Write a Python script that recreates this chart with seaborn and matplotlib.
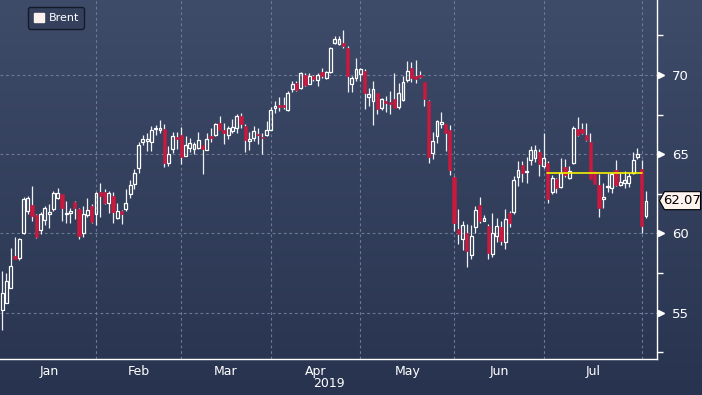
import numpy as np
import pandas as pd
import matplotlib
matplotlib.use("Agg")
import matplotlib.pyplot as plt
import seaborn as sns
from matplotlib.colors import LinearSegmentedColormap
from matplotlib.patches import Patch, Polygon

# Daily Brent candles, Jan 2 2019 -> Aug 2 2019
opens = [55.19, 55.61, 56.56, 58.61, 58.46, 60.04, 61.41, 61.79, 61.14, 60.25,
         60.82, 61.20, 61.52, 62.22, 62.47, 61.22, 61.29, 61.98, 61.52, 60.00,
         61.16, 61.73, 61.20, 62.62, 62.62, 61.94, 62.36, 60.99, 61.41, 61.52,
         62.47, 63.10, 64.16, 65.74, 65.84, 65.74, 66.58, 66.54, 66.58, 64.47,
         65.32, 66.09, 66.20, 64.89, 65.42, 65.32, 65.42, 65.57, 65.27, 66.16,
         66.22, 66.96, 66.51, 66.22, 66.47, 66.64, 67.38, 66.79, 65.84, 66.05,
         66.30, 66.09, 66.22, 66.55, 67.90, 68.11, 68.11, 67.77, 69.10, 69.52,
         69.20, 70.00, 69.45, 69.94, 69.66, 70.19, 69.79, 70.21, 72.04, 71.98,
         72.04, 71.72, 69.45, 69.83, 70.04, 70.25, 68.61, 68.36, 68.89, 67.94,
         68.36, 68.32, 68.46, 67.98, 68.42, 69.68, 70.44, 69.96, 70.00, 69.54,
         68.34, 65.05, 66.17, 66.91, 66.91, 66.55, 63.58, 60.27, 59.64, 60.06,
         58.65, 60.42, 61.79, 60.76, 60.48, 58.69, 59.85, 60.38, 59.49, 61.28,
         61.33, 63.58, 64.32, 63.85, 64.63, 64.76, 65.12, 64.26, 64.47, 62.62,
         63.46, 62.93, 64.20, 63.52, 64.47, 66.58, 66.58, 66.22, 65.74, 63.95,
         63.06, 62.15, 62.93, 62.89, 63.99, 63.06, 63.21, 63.21, 63.84, 64.83,
         64.05, 61.10]
highs = [57.62, 57.51, 59.09, 59.77, 59.73, 62.30, 62.36, 63.00, 61.20, 61.35,
         61.73, 61.84, 62.68, 62.85, 62.51, 62.05, 61.62, 62.05, 61.62, 61.73,
         62.26, 61.84, 62.62, 63.16, 62.83, 62.68, 62.62, 61.94, 61.46, 62.78,
         63.35, 64.05, 65.74, 66.20, 66.32, 66.75, 66.83, 67.17, 66.89, 65.53,
         66.41, 66.41, 66.70, 66.16, 66.05, 65.80, 66.43, 65.60, 66.32, 66.64,
         66.96, 67.42, 67.00, 66.79, 67.21, 67.52, 67.57, 66.89, 66.43, 66.79,
         66.64, 66.37, 67.10, 67.95, 68.36, 68.61, 68.61, 68.99, 69.62, 69.62,
         70.21, 70.15, 70.15, 70.00, 70.15, 70.46, 70.25, 71.77, 72.46, 72.46,
         72.82, 71.83, 69.94, 71.09, 70.46, 70.36, 69.20, 69.62, 68.89, 68.57,
         68.68, 68.99, 70.15, 69.52, 69.96, 70.91, 70.80, 70.95, 70.27, 69.54,
         68.42, 66.42, 67.18, 67.64, 66.91, 66.86, 63.64, 61.54, 60.76, 60.59,
         60.55, 61.75, 62.32, 61.18, 60.59, 61.26, 60.97, 60.80, 61.54, 61.43,
         63.64, 64.59, 64.59, 64.84, 65.54, 65.58, 65.33, 66.37, 64.58, 63.67,
         63.52, 64.79, 64.68, 64.26, 66.79, 67.32, 67.00, 67.00, 66.37, 63.95,
         63.78, 63.21, 63.84, 63.84, 64.62, 63.84, 63.95, 63.84, 65.11, 65.42,
         64.62, 62.68]
lows = [53.92, 55.61, 56.56, 58.40, 58.35, 59.94, 61.20, 60.78, 59.73, 59.94,
        60.53, 60.36, 61.41, 62.15, 60.78, 60.63, 60.63, 60.89, 59.68, 59.77,
        61.05, 60.68, 60.53, 61.05, 61.84, 61.31, 60.68, 60.89, 60.61, 61.41,
        62.26, 62.78, 63.84, 65.57, 65.21, 65.21, 66.20, 66.37, 64.22, 64.26,
        65.10, 65.32, 64.40, 64.89, 65.11, 65.00, 65.32, 63.74, 65.27, 65.80,
        66.16, 66.51, 65.63, 65.95, 66.37, 66.37, 66.68, 65.15, 65.25, 65.84,
        65.63, 65.00, 66.16, 66.50, 67.62, 67.73, 67.83, 67.73, 68.95, 68.99,
        69.10, 69.31, 69.41, 69.62, 69.31, 69.79, 69.73, 70.15, 71.93, 71.89,
        71.72, 68.95, 68.95, 69.62, 69.62, 67.83, 68.04, 66.85, 67.52, 67.77,
        67.69, 67.56, 67.94, 67.83, 68.38, 69.54, 69.54, 69.47, 69.81, 68.06,
        64.42, 64.69, 65.68, 66.65, 65.22, 63.71, 60.17, 59.33, 58.95, 57.89,
        58.38, 60.06, 60.63, 60.76, 58.38, 58.53, 59.49, 59.28, 59.01, 60.38,
        61.22, 63.01, 63.22, 63.16, 64.34, 64.48, 63.64, 64.16, 61.94, 62.51,
        62.57, 62.85, 63.57, 63.42, 64.37, 66.16, 66.27, 65.84, 63.42, 63.10,
        61.03, 61.62, 62.62, 62.57, 63.00, 63.00, 62.89, 62.93, 63.78, 64.68,
        60.04, 60.99]
closes = [56.24, 57.03, 57.97, 58.40, 59.62, 62.15, 62.26, 61.10, 59.77, 61.20,
          61.58, 61.35, 62.53, 62.53, 61.58, 61.29, 61.41, 61.62, 59.87, 61.20,
          61.46, 60.72, 62.53, 62.36, 61.94, 62.53, 61.35, 61.41, 61.20, 61.94,
          63.04, 63.84, 65.57, 65.95, 65.99, 66.54, 66.64, 66.68, 64.47, 65.00,
          66.16, 65.95, 64.80, 65.59, 65.69, 65.63, 65.88, 65.32, 65.95, 66.05,
          66.89, 66.51, 66.37, 66.64, 66.72, 67.42, 66.89, 65.90, 65.95, 66.47,
          66.20, 66.01, 66.51, 67.78, 68.04, 67.98, 67.98, 68.89, 69.45, 69.03,
          70.11, 69.37, 69.94, 69.73, 70.00, 69.94, 70.19, 71.72, 72.25, 72.25,
          71.83, 69.94, 69.83, 70.36, 70.40, 68.89, 68.78, 69.10, 67.83, 68.46,
          68.21, 68.19, 67.94, 68.89, 69.54, 70.23, 69.81, 69.75, 69.85, 68.48,
          64.84, 65.85, 67.12, 67.05, 66.32, 64.00, 60.63, 59.96, 60.55, 58.91,
          59.85, 61.47, 60.80, 60.97, 58.74, 60.00, 60.48, 59.54, 60.91, 60.63,
          63.37, 64.00, 63.81, 63.87, 65.28, 65.28, 64.38, 64.75, 62.15, 63.52,
          62.89, 63.84, 63.69, 63.95, 66.65, 66.20, 66.31, 65.89, 63.42, 63.14,
          61.58, 62.30, 63.00, 63.78, 63.06, 63.25, 63.38, 63.63, 64.62, 65.04,
          60.46, 62.07]

months = ["Jan", "Feb", "Mar", "Apr", "May", "Jun", "Jul"]
month_starts = [0, 22, 42, 63, 84, 106, 127, 150]   # candle index of 1st trading day
price_ticks = [55, 60, 65, 70]
level_price = 63.8
level_from, level_to = 127.7, 150
last_price = 62.07

df = pd.DataFrame({"open": opens, "high": highs, "low": lows, "close": closes})
df["day"] = np.arange(len(df))
df["up"] = df["close"] >= df["open"]
df["top"] = df[["open", "close"]].max(axis=1)
df["bot"] = df[["open", "close"]].min(axis=1)
df["body"] = (df["top"] - df["bot"]).clip(lower=0.06)

sns.set_theme(style="dark", rc={"axes.facecolor": "none", "figure.facecolor": "#2b3753"})
plt.rcParams["font.family"] = ["Liberation Sans Narrow", "DejaVu Sans"]

RED = "#c8193f"
GRID = "#6c7a97"

fig = plt.figure(figsize=(7.02, 3.95), dpi=100)

# gradient backdrop
bg = fig.add_axes([0, 0, 1, 1], zorder=0)
grad = np.linspace(1, 0, 256).reshape(-1, 1)
cmap = LinearSegmentedColormap.from_list("bbg", ["#28344f", "#3e4b69"])
bg.imshow(grad, aspect="auto", cmap=cmap, extent=[0, 1, 0, 1])
bg.axis("off")

ax = fig.add_axes([0, 36 / 395, 657 / 702, 359 / 395], zorder=1)
ax.patch.set_alpha(0)
ymin, ymax = 52.08, 74.73
ax.set_ylim(ymin, ymax)
ax.set_xlim(-0.52, 153.6)

# candles
w = 0.66
up = df[df["up"]]
dn = df[~df["up"]]
ax.vlines(df["day"], df["top"], df["high"], color="#eef0f6", lw=0.9, zorder=3)
ax.vlines(df["day"], df["low"], df["bot"], color="#eef0f6", lw=0.9, zorder=3)
ax.bar(up["day"], up["body"], bottom=up["bot"], width=w, facecolor="none",
       edgecolor="white", lw=0.9, zorder=4)
ax.bar(dn["day"], dn["body"], bottom=dn["bot"], width=w + 0.1, color=RED,
       edgecolor=RED, lw=0.4, zorder=4)

# level line
sns.lineplot(x=[level_from, level_to], y=[level_price, level_price], ax=ax,
             color="#f2f200", lw=1.2, zorder=5)

# grid
ax.set_yticks(price_ticks)
ax.set_yticks(np.arange(52.5, 74, 5), minor=True)
ax.set_xticks(month_starts[1:])
mids = [(a + b) / 2 for a, b in zip(month_starts[:-1], month_starts[1:])]
ax.set_xticks(mids, minor=True)
ax.set_xticklabels([])
ax.set_xticklabels(months, minor=True)
ax.grid(True, which="major", color=GRID, ls=(0, (2.5, 2.5)), lw=0.8)

ax.yaxis.tick_right()
ax.tick_params(axis="y", which="major", length=0, pad=11, labelsize=9.5,
               labelcolor="white")
ax.tick_params(axis="y", which="minor", length=4, width=1, color="white",
               direction="out")
ax.tick_params(axis="x", which="major", length=4, width=1, color="white",
               direction="out")
ax.tick_params(axis="x", which="minor", length=0, pad=4, labelsize=9,
               labelcolor="white")
ax.plot([1.006] * len(price_ticks), price_ticks, marker=">", ms=5, color="white",
        ls="none", transform=ax.get_yaxis_transform(), clip_on=False)

for s in ["top", "left"]:
    ax.spines[s].set_visible(False)
for s in ["right", "bottom"]:
    ax.spines[s].set_color("white")
    ax.spines[s].set_linewidth(1)

ax.text(0.5, -0.068, "2019", transform=ax.transAxes, ha="center", va="center",
        color="white", fontsize=9)

# legend
leg = ax.legend(handles=[Patch(facecolor="#fdf1ee", edgecolor="#fdf1ee", label="Brent")],
                loc="upper left", bbox_to_anchor=(28 / 657, 1 - 7 / 359),
                borderaxespad=0, frameon=True, fancybox=True, facecolor="#34405c",
                edgecolor="#141a28", fontsize=8, labelcolor="white",
                handlelength=0.9, handleheight=0.9, handletextpad=0.45,
                borderpad=0.5)
leg.get_frame().set_linewidth(1.0)
leg.get_frame().set_alpha(1)

# last price tag
yf = (last_price - ymin) / (ymax - ymin)
hh = 9 / 359
tag = Polygon([[659.5 / 657, yf], [664.5 / 657, yf + hh], [700.5 / 657, yf + hh],
               [700.5 / 657, yf - hh], [664.5 / 657, yf - hh]], closed=True,
              transform=ax.transAxes, facecolor="#fff4ee", edgecolor="black",
              lw=0.8, clip_on=False, zorder=6)
ax.add_patch(tag)
ax.text(682.5 / 657, yf, f"{last_price:.2f}", transform=ax.transAxes, ha="center",
        va="center", color="black", fontsize=9.5, clip_on=False, zorder=7)

fig.savefig("out.png", dpi=100, facecolor=fig.get_facecolor())
